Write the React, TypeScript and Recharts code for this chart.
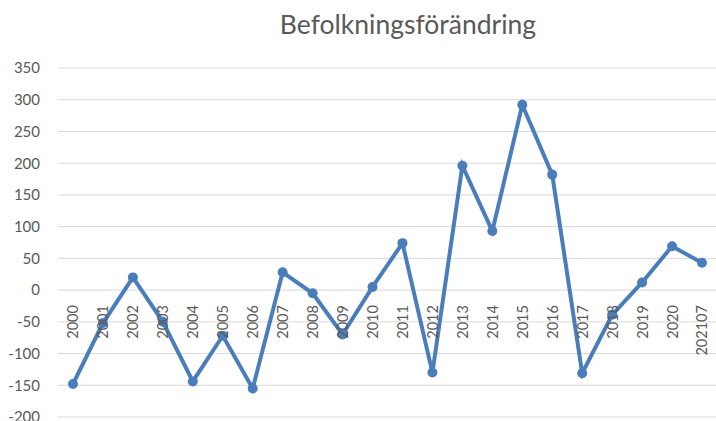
import { LineChart, Line, XAxis, YAxis, CartesianGrid } from 'recharts'

const YEARS = [
  '2000', '2001', '2002', '2003', '2004', '2005', '2006', '2007', '2008', '2009', '2010',
  '2011', '2012', '2013', '2014', '2015', '2016', '2017', '2018', '2019', '2020', '202107',
]
const CHANGE = [
  -148, -52, 20, -50, -144, -72, -155, 28, -5, -70, 5,
  74, -130, 196, 93, 292, 182, -131, -39, 12, 69, 43,
]
const Y_TICKS = [-200, -150, -100, -50, 0, 50, 100, 150, 200, 250, 300, 350]

const W = 716
const H = 421
const TOP = 68
const BOTTOM = 4
const Y_MIN = -200
const Y_MAX = 350
const PLOT_H = H - TOP - BOTTOM
// category labels sit on the zero line, like Excel does
const ZERO_Y = TOP + (PLOT_H * Y_MAX) / (Y_MAX - Y_MIN)

const TEXT = '#595959'
const FONT = 'Lato, "Open Sans", sans-serif'

const data = YEARS.map((year, i) => ({ year, value: CHANGE[i] }))

function YearTick({ x, payload }: any) {
  const y = ZERO_Y + 15
  return (
    <text
      x={x}
      y={y}
      transform={`rotate(-90 ${x} ${y})`}
      textAnchor="end"
      dominantBaseline="central"
      fill={TEXT}
      fontSize={14.5}
      fontFamily={FONT}
    >
      {payload.value}
    </text>
  )
}

export default function App() {
  return (
    <div style={{ position: 'fixed', left: 0, top: 0, width: W, height: H, background: '#fff' }}>
      <div
        style={{
          position: 'absolute',
          left: 408,
          top: 8,
          transform: 'translateX(-50%)',
          whiteSpace: 'nowrap',
          fontFamily: FONT,
          fontSize: 26.5,
          color: TEXT,
        }}
      >
        Befolkningsförändring
      </div>
      <LineChart width={W} height={H} data={data} margin={{ top: TOP, right: 0, bottom: BOTTOM - 1, left: 0 }}>
        <CartesianGrid stroke="#d9d9d9" vertical={false} />
        <XAxis
          dataKey="year"
          height={1}
          axisLine={false}
          tickLine={false}
          interval={0}
          padding={{ left: 15, right: 14 }}
          tick={<YearTick />}
        />
        <YAxis
          width={58}
          domain={[Y_MIN, Y_MAX]}
          ticks={Y_TICKS}
          interval={0}
          axisLine={false}
          tickLine={false}
          tickMargin={12}
          tick={{ fill: TEXT, fontSize: 15, fontFamily: FONT }}
        />
        <Line
          dataKey="value"
          stroke="#4a7ebb"
          strokeWidth={4}
          dot={{ r: 5, fill: '#4a7ebb', stroke: '#4a7ebb', strokeWidth: 0 }}
          isAnimationActive={false}
        />
      </LineChart>
    </div>
  )
}
